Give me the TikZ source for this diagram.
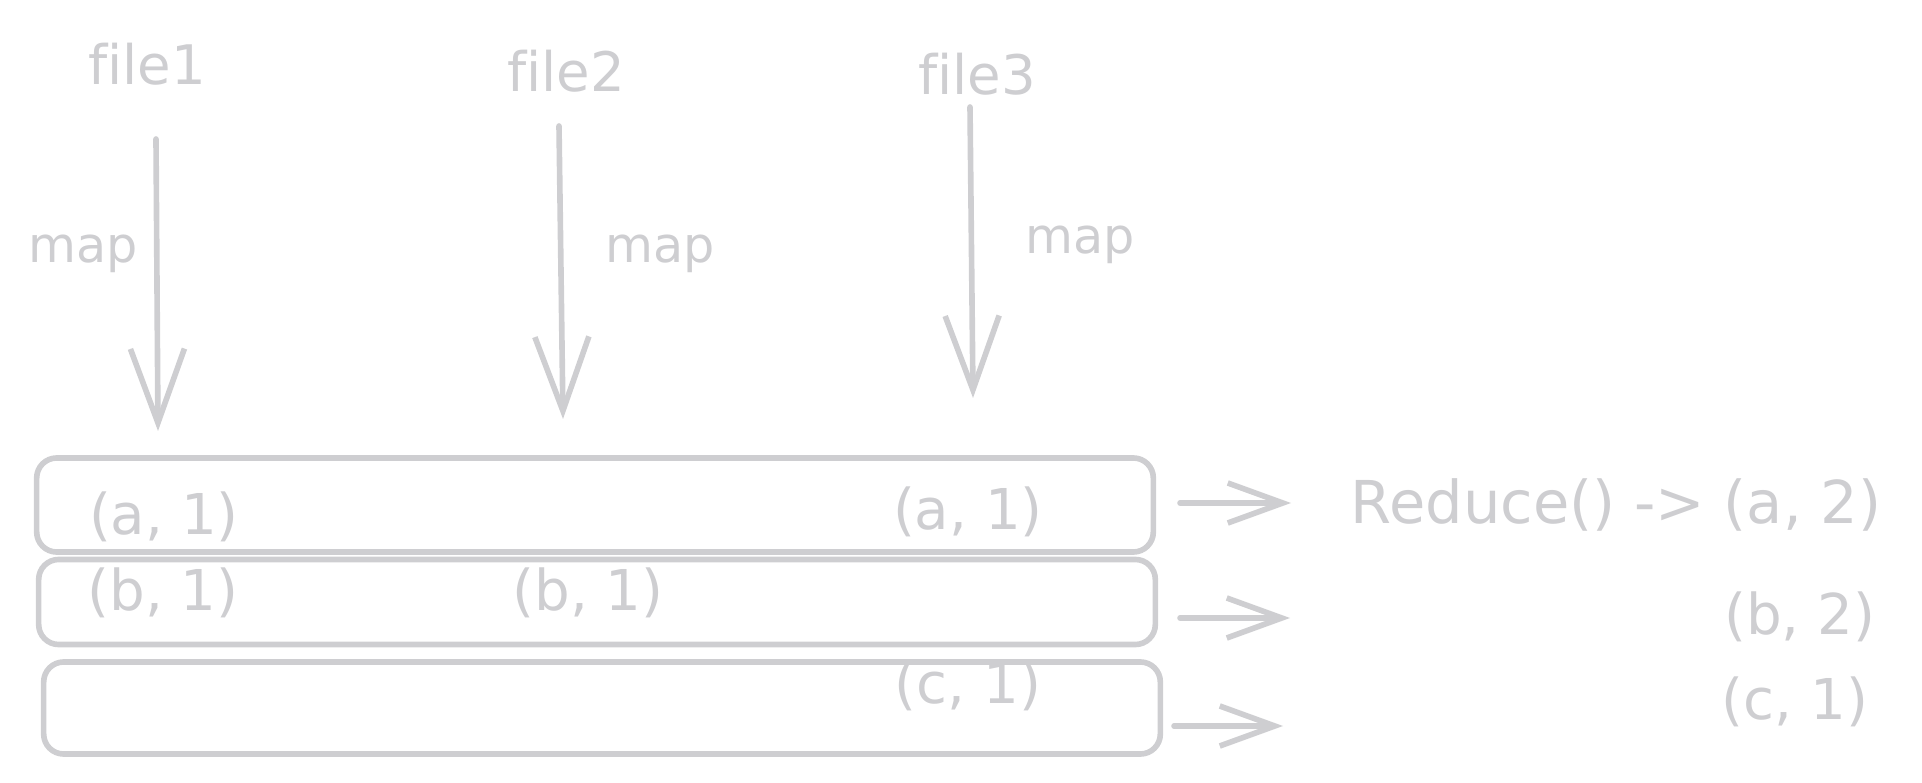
\documentclass[tikz,border=0pt]{standalone}
\usepackage{fontspec}
\setmainfont{DejaVu Sans}[Ligatures=NoCommon]
\usetikzlibrary{arrows.meta,positioning}
\definecolor{sketch}{RGB}{206,206,209}

\begin{document}
\begin{tikzpicture}[
    x=0.01cm, y=-0.01cm,
    lbl/.style={text=sketch, font=\fontsize{16}{19}\selectfont, inner sep=0pt},
    filelbl/.style={text=sketch, font=\fontsize{15.5}{19}\selectfont, inner sep=0pt},
    maplbl/.style={text=sketch, font=\fontsize{14}{17}\selectfont, inner sep=0pt},
    rowbox/.style={draw=sketch, line width=1.6pt, rounded corners=0.2cm,
                minimum width=11.16cm, inner sep=0pt},
    darr/.style={draw=sketch, line width=1.6pt, line cap=round,
                -{Straight Barb[length=7.4mm,width=5.4mm]}},
    rarr/.style={draw=sketch, line width=1.6pt, line cap=round,
                -{Straight Barb[length=5.5mm,width=4mm]}}
]
    \useasboundingbox (0,0) rectangle (1922,783);

    % input files
    \node[filelbl] (f1) at (147,64) {file1};
    \node[filelbl] (f2) at (566,71) {file2};
    \node[filelbl] (f3) at (977,74) {file3};

    \coordinate (d1s) at (156,139);  \coordinate (d1e) at (158,431);
    \coordinate (d2s) at (559,126);  \coordinate (d2e) at (563,419);
    \coordinate (d3s) at (970,107);  \coordinate (d3e) at (973,398);

    \draw[darr] (d1s) -- (d1e);
    \draw[darr] (d2s) -- (d2e);
    \draw[darr] (d3s) -- (d3e);

    \node[maplbl] (m1) at (83,254) {map};
    \node[maplbl] (m2) at (660,254) {map};
    \node[maplbl] (m3) at (1080,245) {map};

    % grouped rows
    \node[rowbox, minimum height=0.94cm] (r1) at (595,505) {};
    \node[rowbox, minimum height=0.85cm] (r2) at (597,602) {};
    \node[rowbox, minimum height=0.92cm] (r3) at (602,708) {};

    \node[lbl] (a1) at (164,517) {(a, 1)};
    \node[lbl] (a3) at (968,512) {(a, 1)};
    \node[lbl] (b1) at (163,593) {(b, 1)};
    \node[lbl] (b2) at (588,593) {(b, 1)};
    \node[lbl] (c3) at (968,686) {(c, 1)};

    % reduce
    \coordinate (s1) at (1180,503);  \coordinate (e1) at (1291,503);
    \coordinate (s2) at (1180,618);  \coordinate (e2) at (1290,618);
    \coordinate (s3) at (1174,726);  \coordinate (e3) at (1283,726);

    \draw[rarr] (s1) -- (e1);
    \draw[rarr] (s2) -- (e2);
    \draw[rarr] (s3) -- (e3);

    \node[lbl, anchor=east, font=\fontsize{16.8}{20}\selectfont] (ra) at (1882,505) {Reduce() -> (a, 2)};
    \node[lbl, anchor=east] (rb) at (1876,617) {(b, 2)};
    \node[lbl, anchor=east] (rc) at (1869,702) {(c, 1)};
\end{tikzpicture}
\end{document}
